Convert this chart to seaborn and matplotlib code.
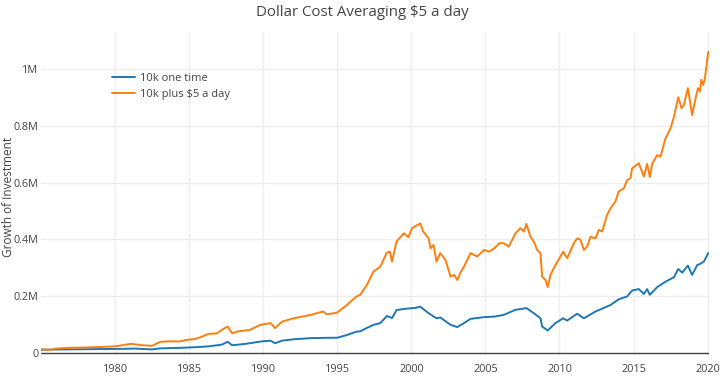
import pandas as pd
import seaborn as sns
import matplotlib.pyplot as plt
from matplotlib.ticker import FuncFormatter

# values (decimal year, $ value)
one_time_years = [1975.0, 1976.0, 1977.0, 1978.0, 1979.1, 1980.0, 1980.7, 1981.35, 1982.0, 1982.5,
                  1983.05, 1984.3, 1985.4, 1986.3, 1987.2, 1987.6, 1987.9, 1988.5, 1989.1, 1989.8,
                  1990.5, 1990.8, 1991.26, 1992.05, 1993.2, 1994.05, 1995.0, 1995.65, 1996.3, 1996.55,
                  1997.0, 1997.45, 1997.9, 1998.35, 1998.7, 1999.0, 1999.5, 2000.3, 2000.6, 2001.17,
                  2001.7, 2001.95, 2002.65, 2003.1, 2003.55, 2004.0, 2004.9, 2005.6, 2006.24, 2007.03,
                  2007.77, 2008.27, 2008.72, 2008.83, 2009.21, 2009.73, 2010.25, 2010.52, 2011.2, 2011.65,
                  2012.43, 2013.1, 2013.45, 2014.0, 2014.57, 2014.9, 2015.36, 2015.7, 2015.92, 2016.1,
                  2016.6, 2017.16, 2017.73, 2018.02, 2018.29, 2018.67, 2018.96, 2019.3, 2019.5, 2019.75,
                  2020.05]
one_time = [10000, 10800, 11500, 12000, 12500, 13000, 13500, 14200, 12500, 11200,
            15000, 16500, 19000, 22000, 28000, 38000, 26000, 29000, 33000, 39000,
            42000, 33000, 42000, 47000, 51000, 52000, 52500, 62000, 74000, 75000,
            87000, 98000, 104000, 129000, 122000, 150000, 154000, 158000, 162000, 139000,
            121000, 124000, 98000, 90000, 104000, 119000, 125000, 127000, 133000, 151000,
            157000, 139000, 121000, 92000, 78000, 104000, 121000, 113000, 137000, 121000,
            145000, 160000, 168000, 188000, 198000, 219000, 224000, 207000, 224000, 204000,
            231000, 250000, 266000, 295000, 282000, 307000, 274000, 309000, 313000, 321000,
            351000]

plus_daily_years = [1975.0, 1975.6, 1975.95, 1976.85, 1978.0, 1979.1, 1980.0, 1980.7, 1981.1, 1981.8,
                    1982.5, 1983.05, 1983.6, 1984.3, 1984.85, 1985.4, 1985.85, 1986.3, 1986.9, 1987.2,
                    1987.6, 1987.9, 1988.3, 1989.1, 1989.8, 1990.5, 1990.8, 1991.26, 1992.05, 1993.2,
                    1994.05, 1994.3, 1994.98, 1995.65, 1996.3, 1996.55, 1997.0, 1997.45, 1997.9, 1998.35,
                    1998.55, 1998.7, 1999.0, 1999.5, 1999.8, 2000.05, 2000.3, 2000.6, 2000.8, 2001.17,
                    2001.3, 2001.5, 2001.7, 2001.95, 2002.3, 2002.65, 2002.9, 2003.1, 2003.35, 2003.55,
                    2004.0, 2004.45, 2004.9, 2005.25, 2005.6, 2005.95, 2006.24, 2006.58, 2007.03, 2007.37,
                    2007.6, 2007.77, 2008.04, 2008.27, 2008.49, 2008.72, 2008.83, 2009.06, 2009.21, 2009.39,
                    2009.73, 2010.07, 2010.25, 2010.52, 2010.97, 2011.2, 2011.42, 2011.65, 2011.87, 2012.1,
                    2012.43, 2012.66, 2012.88, 2013.22, 2013.45, 2013.78, 2014.0, 2014.35, 2014.57, 2014.8,
                    2014.9, 2015.36, 2015.7, 2015.92, 2016.1, 2016.26, 2016.6, 2016.82, 2017.16, 2017.5,
                    2017.73, 2018.02, 2018.24, 2018.4, 2018.67, 2018.96, 2019.19, 2019.35, 2019.48, 2019.57,
                    2019.7, 2019.82, 2020.05]
plus_daily = [12000, 9500, 14000, 16600, 18000, 20000, 22000, 28000, 31000, 26000,
              24000, 38000, 40000, 39000, 45000, 48000, 56000, 66000, 68000, 80000,
              92000, 68000, 75000, 80000, 98000, 104000, 86000, 109000, 121000, 133000,
              145000, 135000, 141000, 168000, 198000, 204000, 239000, 286000, 303000, 353000,
              356000, 321000, 392000, 421000, 407000, 439000, 447000, 456000, 427000, 403000,
              368000, 380000, 321000, 351000, 327000, 268000, 274000, 256000, 286000, 303000,
              351000, 339000, 362000, 356000, 368000, 386000, 386000, 374000, 421000, 439000,
              427000, 454000, 409000, 392000, 362000, 351000, 268000, 256000, 231000, 274000,
              309000, 339000, 356000, 333000, 386000, 403000, 398000, 362000, 374000, 409000,
              403000, 433000, 427000, 486000, 509000, 533000, 568000, 580000, 609000, 615000,
              650000, 668000, 621000, 666000, 619000, 666000, 697000, 691000, 756000, 791000,
              832000, 901000, 862000, 874000, 933000, 838000, 897000, 933000, 921000, 962000,
              944000, 968000, 1062000]

series_names = ["10k one time", "10k plus $5 a day"]
year_ticks = [1980, 1985, 1990, 1995, 2000, 2005, 2010, 2015, 2020]
value_ticks = [0, 200000, 400000, 600000, 800000, 1000000]

df = pd.concat([
    pd.DataFrame({"year": one_time_years, "value": one_time, "series": series_names[0]}),
    pd.DataFrame({"year": plus_daily_years, "value": plus_daily, "series": series_names[1]}),
])

sns.set_theme(style="whitegrid", rc={"grid.color": "#eeeeee", "grid.linewidth": 1.0})
plt.rcParams["font.family"] = ["Open Sans", "DejaVu Sans"]

fig, ax = plt.subplots(figsize=(7.25, 3.83), dpi=100)
fig.subplots_adjust(left=0.0566, right=0.978, top=0.9164, bottom=0.0705)

sns.lineplot(data=df, x="year", y="value", hue="series", hue_order=series_names,
             palette=["#1f77b4", "#ff7f0e"], linewidth=1.4, ax=ax)

ax.axhline(0, color="#444444", linewidth=1.0, zorder=1)
ax.set_xlim(min(one_time_years), max(one_time_years) + 0.05)
ax.set_ylim(-12000, 1131000)
ax.set_xticks(year_ticks)
ax.set_yticks(value_ticks)
ax.yaxis.set_major_formatter(FuncFormatter(
    lambda v, _: "0" if v == 0 else ("1M" if v >= 1e6 else f"{v / 1e6:.1f}M")))
ax.tick_params(axis="both", labelsize=7.8, colors="#444444", length=0)
ax.tick_params(axis="y", pad=2)
ax.tick_params(axis="x", pad=6)
for s in ax.spines.values():
    s.set_visible(False)

ax.set_xlabel("")
ax.set_ylabel("")
fig.text(9 / 725, 1 - 197 / 383, "Growth of Investment", rotation=90, ha="center", va="center",
         fontsize=8.5, color="#444444")

leg = ax.legend(loc="upper left", bbox_to_anchor=(0.1, 0.888), frameon=False, fontsize=8.0,
                handlelength=2.0, handletextpad=0.5, labelspacing=0.5, borderaxespad=0)
for t in leg.get_texts():
    t.set_color("#444444")

fig.text(0.5, 1 - 13 / 383, "Dollar Cost Averaging $5 a day", ha="center", va="center",
         fontsize=10.8, color="#444444")

fig.savefig("out.png", dpi=100)
